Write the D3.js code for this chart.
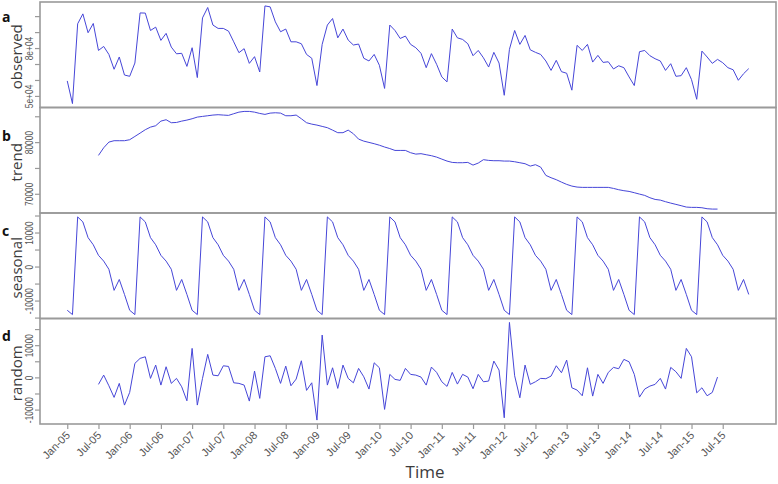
<!DOCTYPE html>
<html>
<head>
<meta charset="utf-8">
<script src="https://cdn.jsdelivr.net/npm/d3@7"></script>
<style>
  html, body { margin: 0; padding: 0; background: #fff; }
  svg { display: block; font-family: "Open Sans", "DejaVu Sans", sans-serif; }
</style>
</head>
<body>
<svg id="chart" width="778" height="484"></svg>
<script>
// ---- Data (monthly, Jan 2005 .. Dec 2015) ----
const startYear = 2005;
const nMonths = 132;

const observed = [
  59400, 45200, 95200, 101400, 89600, 95400, 78500, 81000, 76000, 66700, 74400, 63100,
  62300, 70600, 102000, 101900, 91000, 93100, 84800, 89200, 80600, 76400, 76700, 68500,
  80200, 61500, 98900, 105400, 94400, 92300, 92300, 90600, 83900, 77100, 79600, 70400,
  74600, 65000, 106400, 105800, 96400, 90200, 91900, 83900, 83900, 82700, 76000, 73600,
  56500, 82300, 94400, 98500, 86400, 91900, 85000, 81900, 82500, 73600, 71900, 76000,
  69200, 54700, 94400, 91000, 86000, 87500, 82300, 80200, 76700, 67700, 76500, 69800,
  61900, 58800, 91900, 86400, 85400, 82700, 75200, 78500, 73900, 68100, 77300, 70600,
  50400, 79200, 91000, 82300, 87900, 78900, 77300, 76000, 71900, 66000, 72300, 65200,
  64200, 53600, 81700, 78500, 82300, 71200, 75400, 71000, 71400, 66900, 68900, 67700,
  61900, 56500, 77700, 78500, 75200, 73300, 71900, 66000, 70200, 62300, 62700, 67700,
  60200, 47900, 78100, 74400, 70400, 72900, 70800, 67700, 66400, 59800, 63900, 67100
];

const trend = [
  null, null, null, null, null, null, 77430, 78900, 80000, 80270, 80270, 80270,
  80460, 81100, 81740, 82400, 82900, 83170, 84060, 84330, 83750, 83800, 84060, 84260,
  84520, 84840, 84970, 85100, 85230, 85300, 85230, 85170, 85490, 85800, 85940, 85940,
  85800, 85550, 85360, 85610, 85680, 85610, 85100, 85100, 85230, 84520, 83750, 83480,
  83290, 83040, 82790, 82320, 81820, 81820, 82320, 81620, 80580, 80190, 79940, 79690,
  79400, 79050, 78750, 78390, 78390, 78390, 77950, 77680, 77760, 77560, 77370, 77100,
  76710, 76330, 76070, 76010, 76010, 76070, 75550, 75940, 76600, 76460, 76400, 76400,
  76330, 76330, 76200, 76010, 75820, 75360, 75630, 75160, 73560, 73110, 72730, 72260,
  71820, 71490, 71300, 71240, 71240, 71240, 71240, 71240, 71240, 71040, 70790, 70600,
  70460, 70210, 69940, 69690, 69240, 68910, 68780, 68470, 68200, 67950, 67700, 67430,
  67370, 67370, 67300, 67110, 67040, 67040, null, null, null, null, null, null
];

const seasonal = [
  -12850, -14120, 14590, 13120, 8500, 6400, 3300, 1600, -800, -7000, -3800, -8200,
  -12850, -14120, 14590, 13120, 8500, 6400, 3300, 1600, -800, -7000, -3800, -8200,
  -12850, -14120, 14590, 13120, 8500, 6400, 3300, 1600, -800, -7000, -3800, -8200,
  -12850, -14120, 14590, 13120, 8500, 6400, 3300, 1600, -800, -7000, -3800, -8200,
  -12850, -14120, 14590, 13120, 8500, 6400, 3300, 1600, -800, -7000, -3800, -8200,
  -12850, -14120, 14590, 13120, 8500, 6400, 3300, 1600, -800, -7000, -3800, -8200,
  -12850, -14120, 14590, 13120, 8500, 6400, 3300, 1600, -800, -7000, -3800, -8200,
  -12850, -14120, 14590, 13120, 8500, 6400, 3300, 1600, -800, -7000, -3800, -8200,
  -12850, -14120, 14590, 13120, 8500, 6400, 3300, 1600, -800, -7000, -3800, -8200,
  -12850, -14120, 14590, 13120, 8500, 6400, 3300, 1600, -800, -7000, -3800, -8200,
  -12850, -14120, 14590, 13120, 8500, 6400, 3300, 1600, -800, -7000, -3800, -8200
];

const random = [
  null, null, null, null, null, null, -2170, 710, -2600, -6210, -1860, -8600,
  -4660, 4350, 5900, 6400, -310, 3820, -2390, 3300, -1860, -310, -2920, -7270,
  9000, -8600, -310, 7140, 710, 500, 3600, 3400, -1680, -1860, -2390, -7360,
  1960, -6520, 6400, 6710, 2790, -1860, 3500, -2600, -530, 5160, -4040, -1680,
  -13260, 13140, -2390, 2980, -3420, 3820, -310, -1680, 2790, 190, -3630, 4530,
  2980, -9940, 930, -620, -930, 2790, 930, 710, 100, -2390, 3200, 1550,
  -1360, -2800, 1550, -2080, 930, 100, -3520, 930, -1360, -1140, 5060, 2270,
  -12540, 17070, 500, -6330, 3820, -2170, -1360, -310, -410, 400, 3610, 1450,
  5370, -3230, -3940, -5710, 2980, -5810, 930, -1860, 1550, 3100, 2690, 5590,
  4840, 930, -6120, -3630, -2700, -2170, -310, -3630, 3100, 1760, -310, 9000,
  6400, -4790, -3230, -5710, -4660, 100, null, null, null, null, null, null
];

// x tick positions (fractional years) and labels
const xTickValues = [2005, 2005.5, 2006, 2006.5, 2007, 2007.5, 2008, 2008.5, 2009, 2009.5,
  2010, 2010.5, 2011, 2011.5, 2012, 2012.5, 2013, 2013.5, 2014, 2014.5, 2015, 2015.5];
const xTickLabels = ["Jan-05", "Jul-05", "Jan-06", "Jul-06", "Jan-07", "Jul-07", "Jan-08", "Jul-08",
  "Jan-09", "Jul-09", "Jan-10", "Jul-10", "Jan-11", "Jul-11", "Jan-12", "Jul-12", "Jan-13", "Jul-13",
  "Jan-14", "Jul-14", "Jan-15", "Jul-15"];

// y ticks per panel
const obsTicks = [50000, 60000, 70000, 80000, 90000, 100000];
const obsTickLabels = ["5e+04", "", "", "8e+04", "", ""];
const trendTicks = [70000, 75000, 80000, 85000];
const trendTickLabels = ["70000", "", "80000", ""];
const seasTicks = [-15000, -10000, -5000, 0, 5000, 10000, 15000];
const seasTickLabels = ["", "-10000", "", "0", "", "10000", ""];
const randTicks = [-10000, -5000, 0, 5000, 10000, 15000];
const randTickLabels = ["-10000", "", "0", "", "10000", ""];

const panelNames = ["observed", "trend", "seasonal", "random"];
const panelLetters = ["a", "b", "c", "d"];

// ---- Layout ----
const svg = d3.select("#chart");
const plotL = 40, plotR = 776, plotT = 2, plotB = 424;
const panelH = (plotB - plotT) / 4;
const lineColor = "#4646d8";
const frameColor = "#9a9a9a";

const times = d3.range(nMonths).map(i => startYear + i / 12);
const tExt = d3.extent(times);
const tPad = (tExt[1] - tExt[0]) * 0.04;
const x = d3.scaleLinear().domain([tExt[0] - tPad, tExt[1] + tPad]).range([plotL, plotR]);

const panels = [
  { values: observed, ticks: obsTicks, labels: obsTickLabels },
  { values: trend, ticks: trendTicks, labels: trendTickLabels },
  { values: seasonal, ticks: seasTicks, labels: seasTickLabels },
  { values: random, ticks: randTicks, labels: randTickLabels }
];

const letterBase = [22, 141, 236, 341];

panels.forEach((p, k) => {
  const y0 = plotT + k * panelH, y1 = y0 + panelH;
  const vals = p.values.filter(v => v != null);
  const ext = d3.extent(vals);
  const pad = (ext[1] - ext[0]) * 0.04;
  const y = d3.scaleLinear().domain([ext[0] - pad, ext[1] + pad]).range([y1, y0]);

  const g = svg.append("g");

  // y axis
  const ticksIn = p.ticks.filter(t => y(t) >= y0 && y(t) <= y1);
  const yAxis = d3.axisLeft(y)
    .tickValues(ticksIn)
    .tickSize(5)
    .tickPadding(3)
    .tickFormat(t => p.labels[p.ticks.indexOf(t)]);
  const ya = g.append("g").attr("transform", `translate(${plotL},0)`).call(yAxis);
  ya.select(".domain").remove();
  ya.selectAll(".tick line").attr("stroke", frameColor).attr("stroke-width", 1.2);
  ya.selectAll(".tick text")
    .attr("x", null).attr("dy", null)
    .attr("text-anchor", "middle")
    .attr("transform", "translate(-7.5,0) rotate(-90) scale(0.8,1)")
    .attr("fill", "#555")
    .style("font-size", "10.5px");

  // line
  const line = d3.line()
    .defined(d => d.v != null)
    .x(d => x(d.t))
    .y(d => y(d.v));
  const data = p.values.map((v, i) => ({ t: times[i], v: v }));
  g.append("path")
    .datum(data)
    .attr("d", line)
    .attr("fill", "none")
    .attr("stroke", lineColor)
    .attr("stroke-width", 1);

  // frame
  g.append("rect")
    .attr("x", plotL).attr("y", y0)
    .attr("width", plotR - plotL).attr("height", panelH)
    .attr("fill", "none")
    .attr("stroke", frameColor)
    .attr("stroke-width", 1.6);

  // panel label
  g.append("text")
    .attr("transform", `translate(22,${(y0 + y1) / 2 + 2}) rotate(-90)`)
    .attr("text-anchor", "middle")
    .attr("fill", "#3c3c3c")
    .style("font-size", "15px")
    .text(panelNames[k]);

  // panel letter
  g.append("text")
    .attr("x", 2).attr("y", letterBase[k])
    .attr("fill", "#111")
    .style("font-size", "14px")
    .style("font-weight", "bold")
    .text(panelLetters[k]);
});

// x axis
const xAxis = d3.axisBottom(x)
  .tickValues(xTickValues)
  .tickSize(5)
  .tickFormat((t, i) => xTickLabels[i]);
const xa = svg.append("g").attr("transform", `translate(0,${plotB})`).call(xAxis);
xa.select(".domain").remove();
xa.selectAll(".tick line").attr("stroke", frameColor).attr("stroke-width", 1.2);
xa.selectAll(".tick text")
  .attr("y", null).attr("dy", null)
  .attr("text-anchor", "end")
  .attr("transform", "translate(3,12) rotate(-45)")
  .attr("fill", "#555")
  .style("font-size", "11px");

svg.append("text")
  .attr("x", 425).attr("y", 478)
  .attr("text-anchor", "middle")
  .attr("fill", "#3c3c3c")
  .style("font-size", "17px")
  .text("Time");
</script>
</body>
</html>
